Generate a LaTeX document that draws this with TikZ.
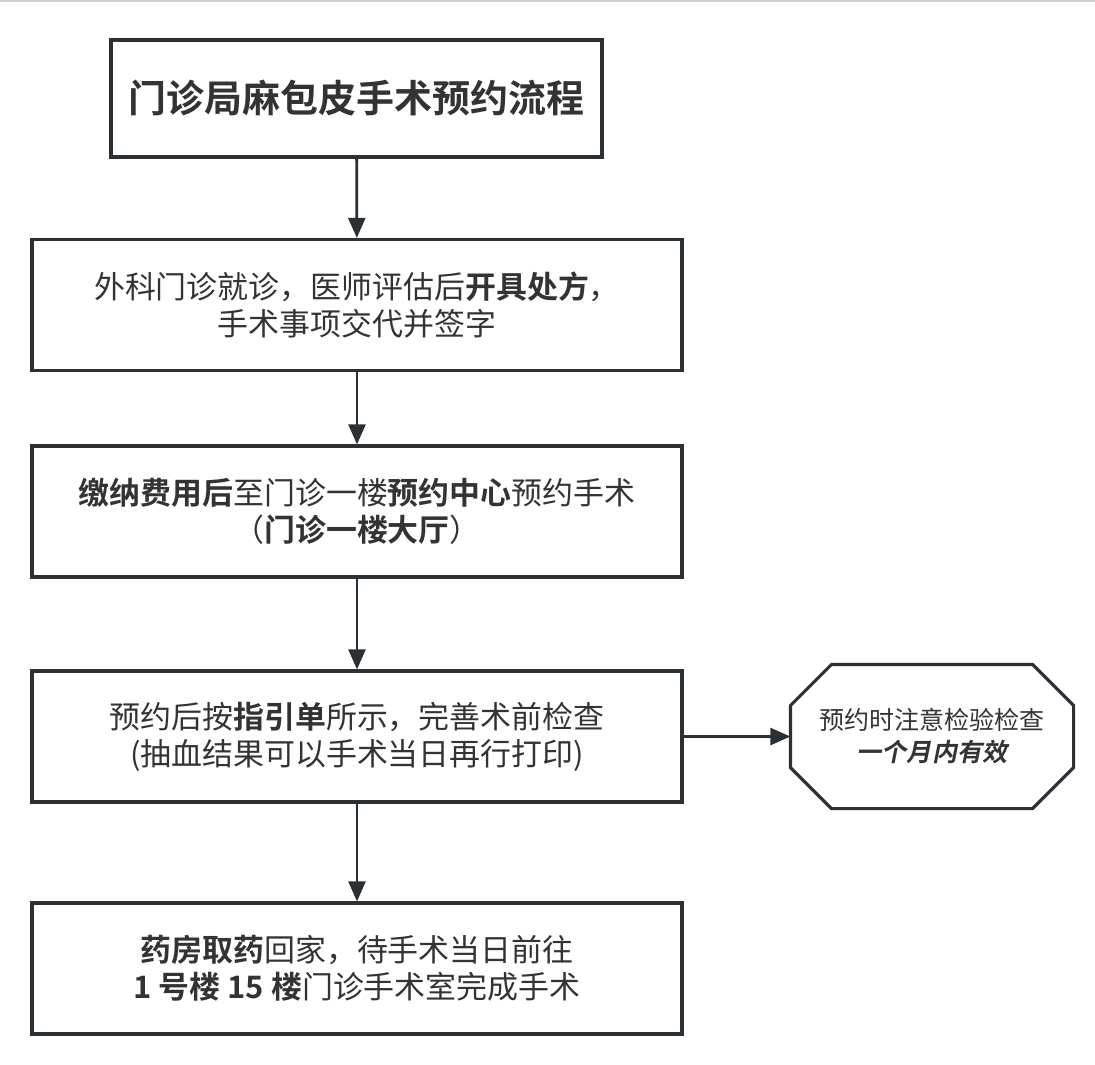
\documentclass[tikz,border=0pt]{standalone}
\usepackage{fontspec}
\setmainfont{Noto Sans CJK SC}[
  BoldFont={Noto Sans CJK SC Bold},
  ItalicFont={Noto Sans CJK SC},
  ItalicFeatures={FakeSlant=0.2},
  BoldItalicFont={Noto Sans CJK SC Bold},
  BoldItalicFeatures={FakeSlant=0.2}]
\usetikzlibrary{arrows.meta,positioning,calc}
\definecolor{linedark}{RGB}{43,48,53}
\definecolor{textdark}{RGB}{51,51,51}
\definecolor{topgray}{RGB}{208,208,208}

\begin{document}
\begin{tikzpicture}[
  box/.style={draw=linedark, line width=2.2pt, rectangle, inner sep=0pt, minimum height=3.275cm, minimum width=16.25cm, align=center, text=textdark, font=\fontsize{22}{26.5}\selectfont},
  arr/.style={-{Triangle[length=0.5cm, width=0.42cm]}, draw=linedark, line width=2pt}
]
\useasboundingbox (0,0) rectangle (27.375,-26.6);
\draw[topgray, line width=1.2pt] (0,-0.02) -- (27.375,-0.02);

\node[box, minimum width=12.275cm, minimum height=2.925cm, font=\fontsize{27}{32}\selectfont\bfseries] (title) at (8.9125,-2.4625) {门诊局麻包皮手术预约流程};

\node[box] (consult) at (8.925,-7.625) {外科门诊就诊，医师评估后\textbf{开具处方}，\\手术事项交代并签字};
\node[box] (booking) at (8.925,-12.7875) {\textbf{缴纳费用后}至门诊一楼\textbf{预约中心}预约手术\\（\textbf{门诊一楼大厅}）};
\node[box] (exams) at (8.925,-18.4125) {预约后按\textbf{指引单}所示，完善术前检查\\(抽血结果可以手术当日再行打印)};
\node[box] (surgery) at (8.925,-24.2125) {\textbf{药房取药}回家，待手术当日前往\\\textbf{1 号楼 15 楼}门诊手术室完成手术};

% octagon note, outline drawn from the node corners
\node[box, draw=none, minimum width=7cm, minimum height=3.525cm, font=\fontsize{17.8}{22.8}\selectfont] (note) at (23.3,-18.4125) {预约时注意检验检查\\\textbf{\textit{一个月内有效}}};
\draw[linedark, line width=2.2pt, line join=miter]
  ($(note.north west)+(1.025,0)$) -- ($(note.north east)+(-1.025,0)$)
  -- ($(note.north east)+(0,-1.025)$) -- ($(note.south east)+(0,1.025)$)
  -- ($(note.south east)+(-1.025,0)$) -- ($(note.south west)+(1.025,0)$)
  -- ($(note.south west)+(0,1.025)$) -- ($(note.north west)+(0,-1.025)$) -- cycle;

\draw[arr] (title) -- (consult);
\draw[arr] (consult) -- (booking);
\draw[arr] (booking) -- (exams);
\draw[arr] (exams) -- (surgery);
\draw[arr] (exams) -- (note);
\end{tikzpicture}
\end{document}
